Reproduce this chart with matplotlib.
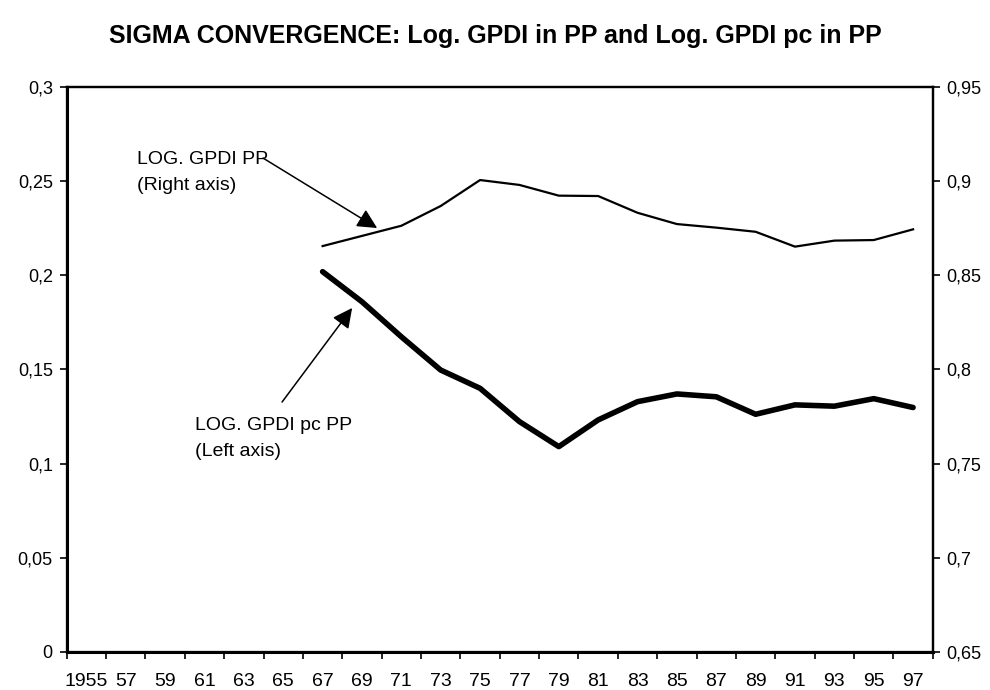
import matplotlib
matplotlib.use("Agg")
import matplotlib.pyplot as plt
from matplotlib.ticker import FixedLocator, FuncFormatter

plt.rcParams['font.family'] = ['Liberation Sans', 'DejaVu Sans']

# category labels (every 2 years)
years_axis = [1955, 1957, 1959, 1961, 1963, 1965, 1967, 1969, 1971, 1973, 1975,
              1977, 1979, 1981, 1983, 1985, 1987, 1989, 1991, 1993, 1995, 1997]
tick_labels = ["1955", "57", "59", "61", "63", "65", "67", "69", "71", "73", "75",
               "77", "79", "81", "83", "85", "87", "89", "91", "93", "95", "97"]

# data
years = [1967, 1969, 1971, 1973, 1975, 1977, 1979, 1981, 1983, 1985,
         1987, 1989, 1991, 1993, 1995, 1997]
gpdi_pp = [0.8656, 0.8710, 0.8764, 0.8869, 0.9007, 0.8981, 0.8924, 0.8922,
           0.8833, 0.8773, 0.8754, 0.8732, 0.8653, 0.8685, 0.8688, 0.8745]   # right axis
gpdi_pc_pp = [0.2020, 0.1860, 0.1674, 0.1497, 0.1400, 0.1223, 0.1090, 0.1232,
              0.1329, 0.1370, 0.1355, 0.1262, 0.1312, 0.1305, 0.1345, 0.1298]  # left axis

comma = FuncFormatter(lambda v, p: ("%g" % round(v, 3)).replace(".", ","))

fig = plt.figure(figsize=(9.9, 6.9), dpi=100)
ax = fig.add_axes([0.0674, 0.0555, 0.8748, 0.818])
ax2 = ax.twinx()

ax.plot(years, gpdi_pc_pp, color='black', lw=4, solid_capstyle='round', zorder=3)
ax2.plot(years, gpdi_pp, color='black', lw=1.6, zorder=3)

ax.set_xlim(1954, 1998)
ax.set_ylim(0, 0.3)
ax2.set_ylim(0.65, 0.95)

ax.set_yticks([0, 0.05, 0.1, 0.15, 0.2, 0.25, 0.3])
ax2.set_yticks([0.65, 0.7, 0.75, 0.8, 0.85, 0.9, 0.95])
ax.yaxis.set_major_formatter(comma)
ax2.yaxis.set_major_formatter(comma)

# tick marks at category borders, labels in between
ax.xaxis.set_major_locator(FixedLocator([y - 1 for y in years_axis] + [1998]))
ax.xaxis.set_major_formatter(FuncFormatter(lambda v, p: ""))
ax.xaxis.set_minor_locator(FixedLocator(years_axis))
ax.set_xticklabels(tick_labels, minor=True)

ax.tick_params(axis='x', which='major', direction='out', length=5, width=1.2, color='black')
ax.tick_params(axis='x', which='minor', length=0, pad=15, labelsize=14)
ax.tick_params(axis='y', direction='out', length=5, width=1.2, labelsize=13, pad=5)
ax2.tick_params(axis='y', direction='out', length=5, width=1.2, labelsize=13, pad=5)

for a in (ax, ax2):
    for s in a.spines.values():
        s.set_linewidth(1.6)
        s.set_color('black')
ax.spines['left'].set_linewidth(2.2)
ax.spines['bottom'].set_linewidth(2.2)

fig.suptitle("SIGMA CONVERGENCE: Log. GPDI in PP and Log. GPDI pc in PP",
             x=0.5, y=0.948, va='center', fontsize=18, fontweight='bold')

# annotations
ax.text(0.081, 0.887, "LOG. GPDI PP\n(Right axis)", transform=ax.transAxes,
        ha='left', va='top', fontsize=14, linespacing=1.65)
ax2.annotate("", xy=(1969.77, 0.8752), xytext=(1963.97, 0.9124),
             arrowprops=dict(arrowstyle='-|>', mutation_scale=30, color='black',
                             lw=1.1, shrinkA=0, shrinkB=0))

ax.text(0.148, 0.4155, "LOG. GPDI pc PP\n(Left axis)", transform=ax.transAxes,
        ha='left', va='top', fontsize=14, linespacing=1.65)
ax.annotate("", xy=(1968.5, 0.1827), xytext=(1964.94, 0.1327),
            arrowprops=dict(arrowstyle='-|>', mutation_scale=30, color='black',
                            lw=1.1, shrinkA=0, shrinkB=0))

fig.savefig("out.png", dpi=100)
